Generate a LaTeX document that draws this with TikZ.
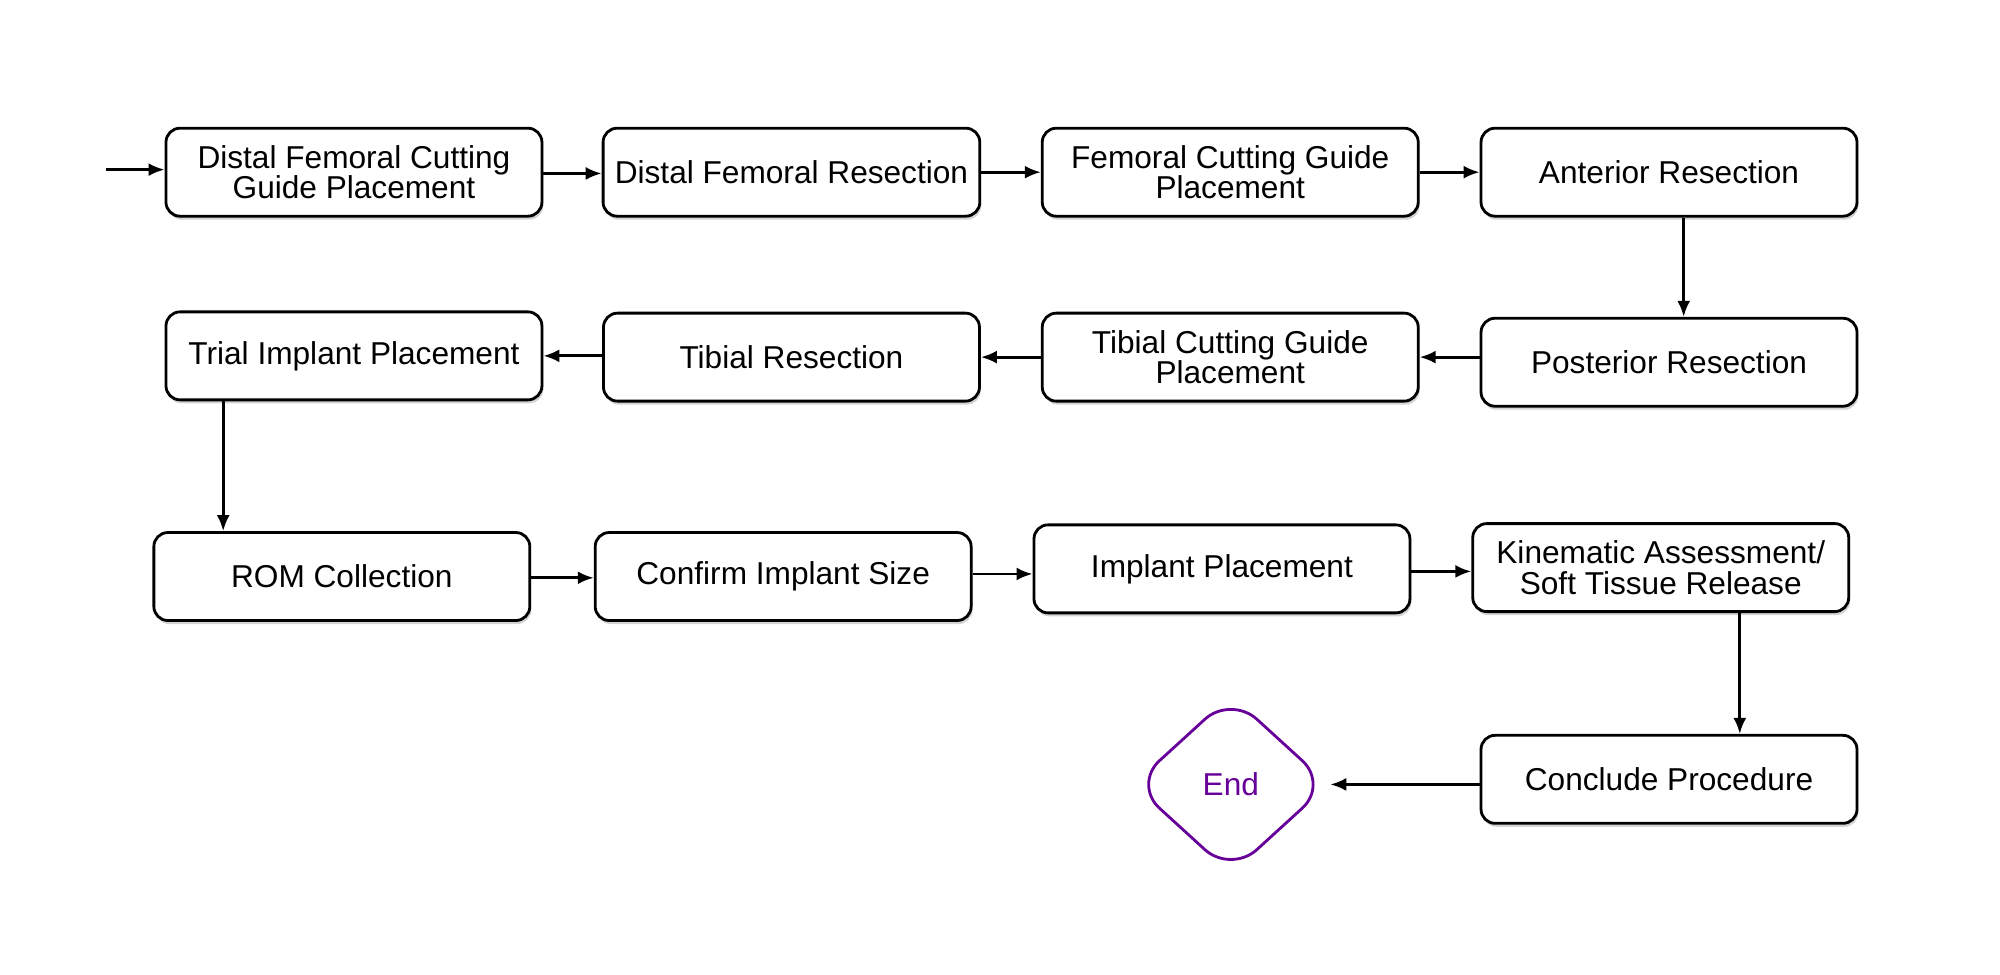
\documentclass[tikz,border=0pt]{standalone}
\usepackage{fontspec}
\setmainfont{Liberation Sans}
\usetikzlibrary{arrows.meta,shapes.geometric,shadows}
\tikzset{>={Latex[length=1.6mm,width=1.3mm]}}
\tikzset{stepbox/.style={draw,line width=0.8pt,rounded corners=4pt,fill=white,
    minimum width=3.76cm,minimum height=0.88cm,align=center,
    font=\fontsize{9}{8.6}\selectfont,
    drop shadow={shadow xshift=0.4pt,shadow yshift=-1pt,opacity=0.35}}}
\tikzset{flow/.style={->,line width=0.8pt}}
\begin{document}
\begin{tikzpicture}[x=0.012755cm,y=-0.012755cm]
\useasboundingbox (0,0) rectangle (1568,764);
    %row one
    \node[stepbox] (dfg) at (277.5,135) {Distal Femoral Cutting\\Guide Placement};
    \node[stepbox] (dfr) at (620.5,135) {Distal Femoral Resection};
    \node[stepbox] (fcg) at (964.5,135) {Femoral Cutting Guide\\Placement};
    \node[stepbox] (ant) at (1308.5,135) {Anterior Resection};
    %row two
    \node[stepbox] (pos) at (1308.5,284) {Posterior Resection};
    \node[stepbox] (tcg) at (964.5,280) {Tibial Cutting Guide\\Placement};
    \node[stepbox] (tib) at (620.5,280) {Tibial Resection};
    \node[stepbox] (tri) at (277.5,279) {Trial Implant Placement};
    %row three
    \node[stepbox] (rom) at (268,452) {ROM Collection};
    \node[stepbox] (cis) at (614,452) {Confirm Implant Size};
    \node[stepbox] (imp) at (958,446) {Implant Placement};
    \node[stepbox] (kin) at (1302,445) {Kinematic Assessment/\\Soft Tissue Release};
    %end
    \node[stepbox] (con) at (1308.5,611) {Conclude Procedure};
    \node[draw=violet!80!blue,line width=0.8pt,diamond,rounded corners=10pt,
        minimum width=154\pgflinewidth*0+1.96cm,minimum height=1.79cm,
        text=violet!80!blue,font=\fontsize{9}{9}\selectfont] (end) at (965,615) {End};
    \coordinate (start) at (83,133);
    %edges
    \draw[flow] (start) -- (start -| dfg.west);
    \draw[flow] (dfg.east |- 0,136) -- (dfr.west |- 0,136);
    \draw[flow] (dfr) -- (fcg);
    \draw[flow] (fcg) -- (ant);
    \draw[flow] (ant.south -| 1320,0) -- (pos.north -| 1320,0);
    \draw[flow] (pos.west |- tcg) -- (tcg);
    \draw[flow] (tcg) -- (tib);
    \draw[flow] (tib.west |- tri) -- (tri);
    \draw[flow] (tri.south -| 175,0) -- (rom.north -| 175,0);
    \draw[flow] (rom.east |- 0,453) -- (cis.west |- 0,453);
    \draw[flow] (cis.east |- 0,450) -- (imp.west |- 0,450);
    \draw[flow] (imp.east |- 0,448) -- (kin.west |- 0,448);
    \draw[flow] (kin.south -| 1364,0) -- (con.north -| 1364,0);
    \draw[flow] (con.west |- end) -- (end);
\end{tikzpicture}
\end{document}
